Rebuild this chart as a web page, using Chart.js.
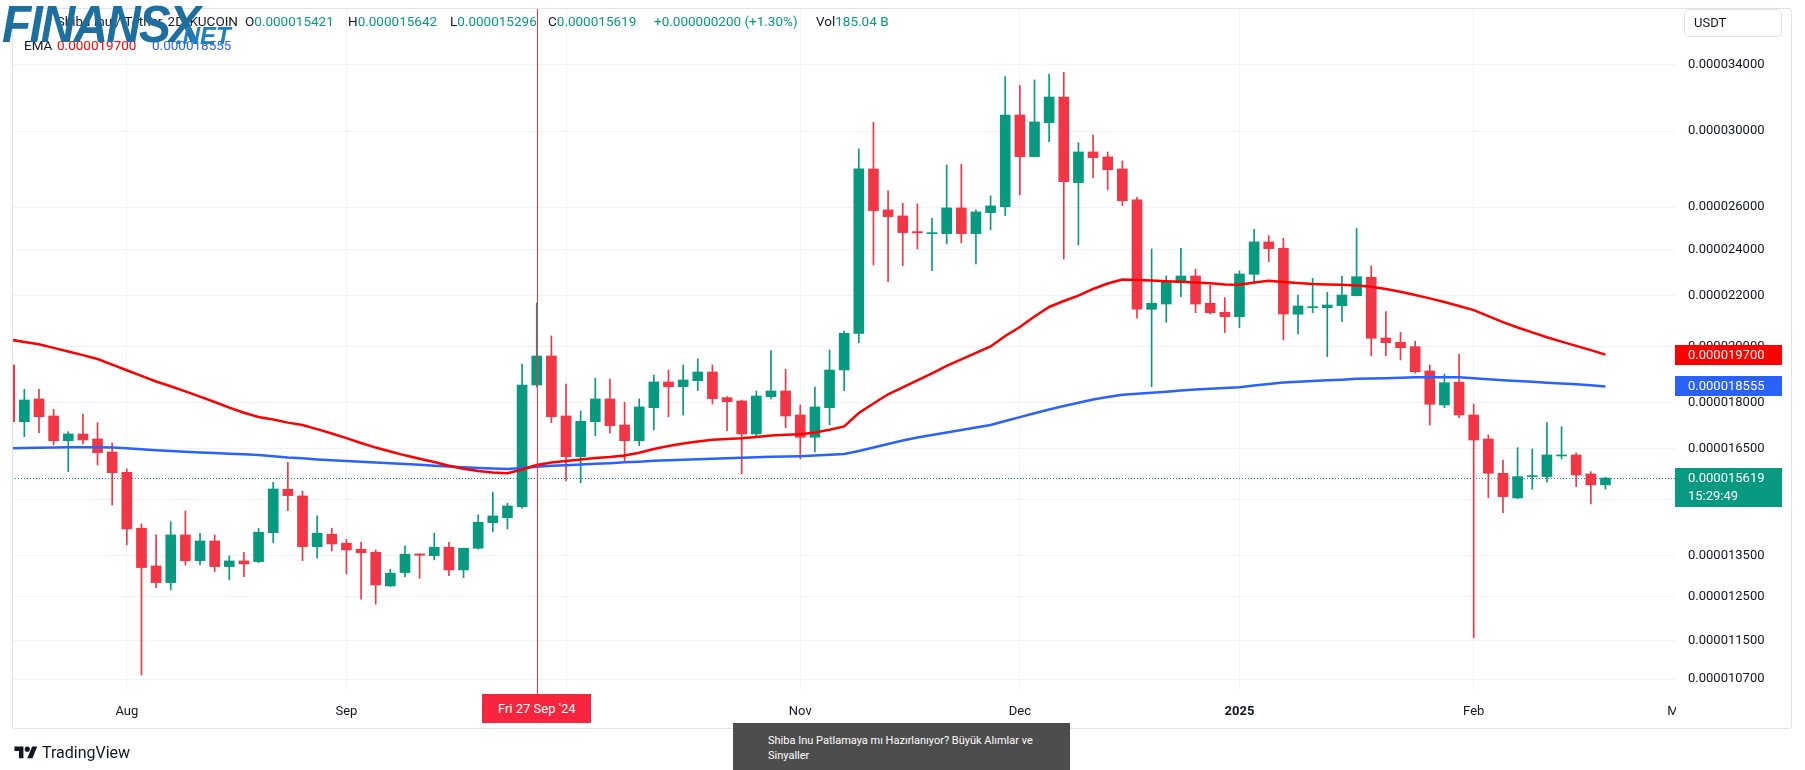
<!DOCTYPE html>
<html><head><meta charset="utf-8">
<script src="https://cdn.jsdelivr.net/npm/chart.js@4.4.1/dist/chart.umd.min.js"></script>
<style>
html,body{margin:0;padding:0;background:#fff;}
body{width:1805px;height:770px;position:relative;overflow:hidden;font-family:Roboto,"Noto Sans",sans-serif;color:#131722;}
#c{position:absolute;left:0;top:0;}
.abs{position:absolute;white-space:nowrap;}
.hd{font-size:13.5px;line-height:16px;top:13px;}
.hd2{font-size:13.5px;line-height:16px;top:37px;}
.g{color:#089981;}
.plbl{left:1675px;width:107px;height:20px;line-height:20px;color:#fff;font-size:13px;box-sizing:border-box;}
.plbl span{position:absolute;left:13px;}
</style></head><body>
<canvas id="c" width="1805" height="770"></canvas>

<div class="abs" style="left:12px;top:8px;width:1778px;height:719px;border:1px solid #e0e3eb;border-radius:3px;pointer-events:none;"></div>

<span class="abs hd" style="right:1567px;">Shiba Inu / Tether, 2D, KUCOIN</span>
<span class="abs hd" style="left:245px;">O<span class="g">0.000015421</span></span>
<span class="abs hd" style="left:348px;">H<span class="g">0.000015642</span></span>
<span class="abs hd" style="left:450px;">L<span class="g">0.000015296</span></span>
<span class="abs hd" style="left:548px;">C<span class="g">0.000015619</span></span>
<span class="abs hd g" style="left:654px;">+0.000000200 (+1.30%)</span>
<span class="abs hd" style="left:816px;">Vol<span class="g">185.04 B</span></span>
<span class="abs hd2" style="left:24px;">EMA</span>
<span class="abs hd2" style="left:57px;color:#ff0000;">0.000019700</span>
<span class="abs hd2" style="left:152px;color:#2962ff;">0.000018555</span>

<div class="abs" style="left:2px;top:-6px;font:italic 900 52px 'Liberation Sans',Arial,sans-serif;color:#1d6f9f;letter-spacing:-2px;transform:scaleX(0.92);transform-origin:left top;">FINANSX</div>
<div class="abs" style="left:176px;top:22px;font:italic 900 24px 'Liberation Sans',Arial,sans-serif;color:#1f7fbf;">.NET</div>

<div class="abs" style="left:1684px;top:9px;width:98px;height:28px;border:1px solid #e0e3eb;border-radius:5px;box-sizing:border-box;font-size:13px;line-height:26px;padding-left:9px;">USDT</div>

<div id="lblRed" class="abs plbl" style="background:#ff0000;"><span></span></div>
<div id="lblBlue" class="abs plbl" style="background:#2962ff;"><span></span></div>
<div id="lblLast" class="abs plbl" style="background:#089981;height:39px;"><span id="lastTxt" style="top:1px;line-height:18px;"></span><span style="top:19px;line-height:18px;">15:29:49</span></div>

<div class="abs" style="left:1676px;top:692px;width:110px;height:34px;background:#fff;"></div>
<div id="lblDate" class="abs" style="top:694px;width:109px;height:29px;line-height:30px;background:#f7253e;color:#fff;font-size:13px;text-align:center;"></div>

<div class="abs" style="left:733px;top:723px;width:337px;height:47px;background:#4d4d4d;color:#fff;font-size:11px;line-height:15px;">
  <div style="position:absolute;left:35px;top:10px;">Shiba Inu Patlamaya mı Hazırlanıyor? Büyük Alımlar ve<br>Sinyaller</div>
</div>

<div class="abs" style="left:14px;top:743px;display:flex;align-items:center;gap:4px;">
  <svg width="24" height="18" viewBox="0 0 36 28"><path d="M14 22H7V11H0V4h14v18zM28 22h-8l7.5-18h8L28 22z" fill="#131722"/><circle cx="20" cy="8" r="4" fill="#131722"/></svg>
  <span style="font-size:16px;color:#131722;">TradingView</span>
</div>

<script>
const dates = [
 '2024-07-17','2024-07-19','2024-07-21','2024-07-23','2024-07-25','2024-07-27','2024-07-29','2024-07-31',
 '2024-08-02','2024-08-04','2024-08-06','2024-08-08','2024-08-10','2024-08-12','2024-08-14','2024-08-16','2024-08-18','2024-08-20','2024-08-22','2024-08-24','2024-08-26','2024-08-28','2024-08-30',
 '2024-09-01','2024-09-03','2024-09-05','2024-09-07','2024-09-09','2024-09-11','2024-09-13','2024-09-15','2024-09-17','2024-09-19','2024-09-21','2024-09-23','2024-09-25','2024-09-27','2024-09-29',
 '2024-10-01','2024-10-03','2024-10-05','2024-10-07','2024-10-09','2024-10-11','2024-10-13','2024-10-15','2024-10-17','2024-10-19','2024-10-21','2024-10-23','2024-10-25','2024-10-27','2024-10-29','2024-10-31',
 '2024-11-02','2024-11-04','2024-11-06','2024-11-08','2024-11-10','2024-11-12','2024-11-14','2024-11-16','2024-11-18','2024-11-20','2024-11-22','2024-11-24','2024-11-26','2024-11-28','2024-11-30',
 '2024-12-02','2024-12-04','2024-12-06','2024-12-08','2024-12-10','2024-12-12','2024-12-14','2024-12-16','2024-12-18','2024-12-20','2024-12-22','2024-12-24','2024-12-26','2024-12-28','2024-12-30',
 '2025-01-01','2025-01-03','2025-01-05','2025-01-07','2025-01-09','2025-01-11','2025-01-13','2025-01-15','2025-01-17','2025-01-19','2025-01-21','2025-01-23','2025-01-25','2025-01-27','2025-01-29','2025-01-31',
 '2025-02-02','2025-02-04','2025-02-06','2025-02-08','2025-02-10','2025-02-12','2025-02-14','2025-02-16','2025-02-18','2025-02-20'
];
const open = [
 19.320e-6,17.366e-6,18.123e-6,17.553e-6,16.756e-6,16.969e-6,16.810e-6,16.404e-6,15.787e-6,14.211e-6,
 13.239e-6,12.830e-6,14.033e-6,13.371e-6,13.876e-6,13.222e-6,13.364e-6,13.346e-6,14.094e-6,15.293e-6,
 15.102e-6,13.728e-6,14.052e-6,13.816e-6,13.661e-6,13.584e-6,12.750e-6,13.074e-6,13.541e-6,13.498e-6,
 13.713e-6,13.140e-6,13.687e-6,14.362e-6,14.497e-6,14.801e-6,18.607e-6,19.650e-6,17.553e-6,16.260e-6,
 17.366e-6,18.123e-6,17.258e-6,16.756e-6,17.829e-6,18.713e-6,18.547e-6,18.758e-6,19.067e-6,18.168e-6,
 18.055e-6,16.969e-6,18.202e-6,18.398e-6,17.586e-6,16.864e-6,17.829e-6,19.139e-6,20.506e-6,27.935e-6,
 25.863e-6,25.573e-6,24.829e-6,24.735e-6,24.735e-6,25.960e-6,24.735e-6,25.732e-6,26.025e-6,30.920e-6,
 28.589e-6,30.476e-6,31.985e-6,27.225e-6,28.842e-6,28.572e-6,27.935e-6,26.353e-6,21.454e-6,21.668e-6,
 22.555e-6,22.841e-6,21.697e-6,21.333e-6,21.157e-6,22.914e-6,24.352e-6,24.065e-6,21.254e-6,21.519e-6,
 21.519e-6,21.599e-6,22.010e-6,22.785e-6,20.326e-6,20.163e-6,19.997e-6,19.103e-6,17.920e-6,18.702e-6,
 17.586e-6,16.810e-6,15.760e-6,15.045e-6,15.660e-6,15.660e-6,16.281e-6,16.312e-6,15.739e-6,15.421e-6
];
const high = [
 19.356e-6,18.457e-6,18.457e-6,17.776e-6,17.042e-6,17.619e-6,17.334e-6,16.684e-6,15.888e-6,14.327e-6,
 14.033e-6,14.389e-6,14.681e-6,14.078e-6,14.033e-6,13.491e-6,13.584e-6,14.211e-6,15.496e-6,16.089e-6,
 15.244e-6,14.544e-6,14.211e-6,13.920e-6,13.842e-6,13.643e-6,13.157e-6,13.746e-6,13.541e-6,14.078e-6,
 13.842e-6,13.687e-6,14.571e-6,15.207e-6,14.895e-6,19.356e-6,21.709e-6,20.403e-6,18.642e-6,17.719e-6,
 18.843e-6,18.818e-6,18.011e-6,18.123e-6,18.960e-6,19.139e-6,19.320e-6,19.540e-6,19.320e-6,18.202e-6,
 18.089e-6,18.398e-6,19.847e-6,19.164e-6,17.920e-6,18.537e-6,19.873e-6,20.596e-6,29.005e-6,30.499e-6,
 26.804e-6,26.190e-6,26.157e-6,25.462e-6,28.146e-6,28.183e-6,25.863e-6,26.552e-6,33.228e-6,32.671e-6,
 33.023e-6,33.398e-6,33.505e-6,29.351e-6,29.779e-6,28.842e-6,28.359e-6,26.487e-6,24.034e-6,22.841e-6,
 24.065e-6,23.134e-6,22.457e-6,21.928e-6,23.060e-6,24.941e-6,24.642e-6,24.522e-6,22.039e-6,22.742e-6,
 22.151e-6,22.841e-6,24.987e-6,23.278e-6,21.358e-6,20.546e-6,20.212e-6,19.320e-6,18.996e-6,19.713e-6,
 17.953e-6,16.937e-6,16.159e-6,16.537e-6,16.497e-6,17.334e-6,17.203e-6,16.373e-6,15.807e-6,15.642e-6
];
const low = [
 17.324e-6,16.883e-6,17.011e-6,16.621e-6,15.807e-6,16.652e-6,16.008e-6,14.848e-6,13.772e-6,10.783e-6,
 12.709e-6,12.655e-6,13.264e-6,13.264e-6,13.098e-6,12.895e-6,12.975e-6,13.321e-6,13.832e-6,14.690e-6,
 13.371e-6,13.432e-6,13.617e-6,13.041e-6,12.435e-6,12.319e-6,12.734e-6,12.975e-6,12.936e-6,13.389e-6,
 13.000e-6,12.951e-6,13.661e-6,14.121e-6,14.193e-6,14.756e-6,18.537e-6,17.334e-6,15.534e-6,15.484e-6,
 16.915e-6,16.991e-6,16.077e-6,16.599e-6,17.097e-6,17.530e-6,17.586e-6,18.409e-6,17.953e-6,17.074e-6,
 15.739e-6,16.883e-6,18.123e-6,17.171e-6,16.190e-6,16.404e-6,17.258e-6,18.409e-6,20.148e-6,23.322e-6,
 22.598e-6,23.291e-6,24.034e-6,23.073e-6,24.261e-6,24.306e-6,23.365e-6,24.908e-6,25.587e-6,26.602e-6,
 28.589e-6,29.406e-6,23.586e-6,24.215e-6,27.482e-6,26.868e-6,26.073e-6,21.094e-6,18.547e-6,20.936e-6,
 21.968e-6,21.318e-6,21.266e-6,20.531e-6,20.725e-6,22.585e-6,23.467e-6,20.250e-6,20.480e-6,21.318e-6,
 19.624e-6,20.960e-6,21.997e-6,19.661e-6,19.661e-6,19.503e-6,19.021e-6,17.258e-6,17.829e-6,17.497e-6,
 11.566e-6,15.053e-6,14.635e-6,15.024e-6,15.293e-6,15.496e-6,16.190e-6,15.368e-6,14.876e-6,15.296e-6
];
const close = [
 17.366e-6,18.089e-6,17.530e-6,16.756e-6,16.969e-6,16.778e-6,16.383e-6,15.778e-6,14.193e-6,13.197e-6,
 12.830e-6,14.033e-6,13.371e-6,13.876e-6,13.222e-6,13.364e-6,13.289e-6,14.105e-6,15.301e-6,15.110e-6,
 13.728e-6,14.078e-6,13.798e-6,13.643e-6,13.574e-6,12.774e-6,13.059e-6,13.533e-6,13.508e-6,13.713e-6,
 13.140e-6,13.687e-6,14.373e-6,14.544e-6,14.820e-6,18.607e-6,19.650e-6,17.530e-6,16.260e-6,17.379e-6,
 18.123e-6,17.235e-6,16.756e-6,17.853e-6,18.713e-6,18.547e-6,18.783e-6,19.067e-6,18.133e-6,18.031e-6,
 16.969e-6,18.226e-6,18.398e-6,17.553e-6,16.864e-6,17.853e-6,19.139e-6,20.506e-6,27.935e-6,25.829e-6,
 25.539e-6,24.782e-6,24.768e-6,24.782e-6,25.960e-6,24.735e-6,25.766e-6,26.058e-6,30.920e-6,28.589e-6,
 30.516e-6,31.985e-6,27.276e-6,28.842e-6,28.535e-6,27.898e-6,26.318e-6,21.454e-6,21.697e-6,22.572e-6,
 22.841e-6,21.668e-6,21.318e-6,21.157e-6,22.927e-6,24.352e-6,24.047e-6,21.266e-6,21.587e-6,21.560e-6,
 21.628e-6,22.039e-6,22.811e-6,20.314e-6,20.148e-6,19.960e-6,19.078e-6,17.943e-6,18.688e-6,17.586e-6,
 16.778e-6,15.760e-6,15.082e-6,15.660e-6,15.690e-6,16.312e-6,16.312e-6,15.710e-6,15.419e-6,15.619e-6
];
const emaRed = [
 20.269e-6,20.174e-6,20.087e-6,19.952e-6,19.817e-6,19.680e-6,19.539e-6,19.331e-6,19.128e-6,18.928e-6,
 18.730e-6,18.562e-6,18.385e-6,18.202e-6,18.021e-6,17.833e-6,17.659e-6,17.520e-6,17.435e-6,17.334e-6,
 17.258e-6,17.125e-6,16.985e-6,16.835e-6,16.684e-6,16.540e-6,16.417e-6,16.300e-6,16.196e-6,16.095e-6,
 15.984e-6,15.897e-6,15.828e-6,15.784e-6,15.763e-6,15.873e-6,16.008e-6,16.083e-6,16.129e-6,16.174e-6,
 16.220e-6,16.251e-6,16.297e-6,16.380e-6,16.497e-6,16.590e-6,16.668e-6,16.731e-6,16.787e-6,16.810e-6,
 16.834e-6,16.873e-6,16.921e-6,16.943e-6,16.959e-6,17.017e-6,17.106e-6,17.210e-6,17.652e-6,17.970e-6,
 18.284e-6,18.523e-6,18.769e-6,19.021e-6,19.291e-6,19.525e-6,19.765e-6,20.005e-6,20.403e-6,20.752e-6,
 21.165e-6,21.547e-6,21.791e-6,22.014e-6,22.289e-6,22.521e-6,22.691e-6,22.670e-6,22.645e-6,22.619e-6,
 22.598e-6,22.564e-6,22.526e-6,22.478e-6,22.470e-6,22.564e-6,22.636e-6,22.585e-6,22.542e-6,22.500e-6,
 22.478e-6,22.466e-6,22.436e-6,22.385e-6,22.289e-6,22.172e-6,22.039e-6,21.899e-6,21.750e-6,21.587e-6,
 21.418e-6,21.177e-6,20.940e-6,20.732e-6,20.542e-6,20.353e-6,20.189e-6,20.027e-6,19.869e-6,19.700e-6
];
const emaBlue = [
 16.515e-6,16.524e-6,16.534e-6,16.543e-6,16.549e-6,16.549e-6,16.549e-6,16.540e-6,16.521e-6,16.487e-6,
 16.460e-6,16.435e-6,16.413e-6,16.389e-6,16.370e-6,16.349e-6,16.330e-6,16.312e-6,16.272e-6,16.232e-6,
 16.208e-6,16.174e-6,16.147e-6,16.129e-6,16.104e-6,16.080e-6,16.059e-6,16.035e-6,16.014e-6,15.984e-6,
 15.960e-6,15.936e-6,15.918e-6,15.903e-6,15.888e-6,15.918e-6,15.957e-6,15.987e-6,16.002e-6,16.023e-6,
 16.041e-6,16.062e-6,16.086e-6,16.107e-6,16.132e-6,16.153e-6,16.168e-6,16.184e-6,16.199e-6,16.214e-6,
 16.229e-6,16.242e-6,16.254e-6,16.263e-6,16.275e-6,16.294e-6,16.321e-6,16.343e-6,16.435e-6,16.543e-6,
 16.652e-6,16.762e-6,16.858e-6,16.937e-6,17.017e-6,17.097e-6,17.177e-6,17.258e-6,17.389e-6,17.514e-6,
 17.642e-6,17.769e-6,17.883e-6,17.997e-6,18.106e-6,18.192e-6,18.267e-6,18.302e-6,18.340e-6,18.374e-6,
 18.412e-6,18.447e-6,18.475e-6,18.502e-6,18.527e-6,18.586e-6,18.642e-6,18.695e-6,18.720e-6,18.744e-6,
 18.769e-6,18.793e-6,18.822e-6,18.836e-6,18.846e-6,18.860e-6,18.875e-6,18.878e-6,18.878e-6,18.878e-6,
 18.842e-6,18.810e-6,18.776e-6,18.748e-6,18.716e-6,18.688e-6,18.660e-6,18.628e-6,18.600e-6,18.555e-6
];
const yTicks = [10.7e-6, 11.5e-6, 12.5e-6, 13.5e-6, 15.0e-6, 16.5e-6, 18.0e-6, 20.0e-6, 22.0e-6, 24.0e-6, 26.0e-6, 30.0e-6, 34.0e-6];
const monthTickIndex = [8, 23, 38, 54, 69, 84, 100, 114];
const monthTickLabels = ['Aug', 'Sep', 'Oct', 'Nov', 'Dec', '2025', 'Feb', 'Mar'];
const crosshairIndex = 36;
const crosshairLabel = "Fri 27 Sep '24";

const UP = '#089981', DOWN = '#f23645';
const candleColors = close.map((c, i) => c >= open[i] ? UP : DOWN);
const X_MIN = 0.157, X_MAX = 113.75;

const overlay = {
  id: 'overlay',
  beforeDatasetsDraw(chart) {
    const {ctx, chartArea: a, scales: {y}} = chart;
    const py = Math.round(y.getPixelForValue(close[close.length - 1])) + 0.5;
    ctx.save();
    ctx.strokeStyle = UP; ctx.lineWidth = 1; ctx.setLineDash([1, 2]);
    ctx.beginPath(); ctx.moveTo(a.left, py); ctx.lineTo(a.right, py); ctx.stroke();
    ctx.restore();
  },
  afterDatasetsDraw(chart) {
    const {ctx, chartArea: a, scales: {x}} = chart;
    const px = Math.round(x.getPixelForValue(crosshairIndex)) + 0.5;
    ctx.save();
    ctx.strokeStyle = '#f23645'; ctx.lineWidth = 1;
    ctx.beginPath(); ctx.moveTo(px, a.top); ctx.lineTo(px, a.bottom + 4); ctx.stroke();
    ctx.restore();
  }
};

const chart = new Chart(document.getElementById('c'), {
  type: 'bar',
  data: {
    datasets: [
      { type: 'line', data: emaRed.map((v, i) => ({x: i, y: v})), borderColor: '#ff0000', borderWidth: 2.5, pointRadius: 0, tension: 0, order: 0 },
      { type: 'line', data: emaBlue.map((v, i) => ({x: i, y: v})), borderColor: '#2962ff', borderWidth: 2.5, pointRadius: 0, tension: 0, order: 0 },
      { type: 'bar', data: dates.map((d, i) => ({x: i, y: [open[i], close[i]]})), backgroundColor: candleColors, borderWidth: 0, barThickness: 10, minBarLength: 1, grouped: false, order: 1 },
      { type: 'bar', data: dates.map((d, i) => ({x: i, y: [low[i], high[i]]})), backgroundColor: candleColors, borderWidth: 0, barThickness: 1, minBarLength: 1, grouped: false, order: 2 }
    ]
  },
  options: {
    responsive: false, animation: false, events: [],
    layout: { padding: { left: 12, top: 9, right: 0, bottom: 43 } },
    plugins: { legend: { display: false }, tooltip: { enabled: false } },
    scales: {
      x: {
        type: 'linear', min: X_MIN, max: X_MAX, bounds: 'data', offset: false,
        grid: { offset: false, color: c => (c.tick && c.tick.value <= X_MAX) ? '#f0f3fa' : 'rgba(0,0,0,0)', drawTicks: false },
        border: { display: false },
        afterBuildTicks: s => { s.ticks = monthTickIndex.map(v => ({value: v})); },
        afterFit: s => { s.height = 37; s.paddingLeft = 0; s.paddingRight = 0; },
        ticks: {
          autoSkip: false, maxRotation: 0, minRotation: 0, padding: 14, color: '#131722',
          font: c => ({ family: 'Roboto', size: 13, weight: (c.tick && c.tick.value === 84) ? 'bold' : 'normal' }),
          callback: (v, i) => monthTickLabels[i]
        }
      },
      y: {
        type: 'logarithmic', position: 'right', min: 10.483e-6, max: 37.741e-6, bounds: 'data',
        grid: { color: '#f0f3fa', drawTicks: false },
        border: { display: false },
        afterBuildTicks: s => { s.ticks = yTicks.map(v => ({value: v})); },
        afterFit: s => { s.width = 130; s.paddingTop = 0; s.paddingBottom = 0; },
        ticks: { autoSkip: false, padding: 13, color: '#131722', font: { family: 'Roboto', size: 13 }, callback: v => Number(v).toFixed(9) }
      }
    }
  },
  plugins: [overlay]
});

const ys = chart.scales.y, xs = chart.scales.x, last = close.length - 1;
function place(id, val, h) { const el = document.getElementById(id); el.style.top = (ys.getPixelForValue(val) - h / 2) + 'px'; return el; }
place('lblRed', emaRed[last], 20).firstChild.textContent = emaRed[last].toFixed(9);
place('lblBlue', emaBlue[last], 20).firstChild.textContent = emaBlue[last].toFixed(9);
const ll = document.getElementById('lblLast');
ll.style.top = (ys.getPixelForValue(close[last]) - 10) + 'px';
document.getElementById('lastTxt').textContent = close[last].toFixed(9);
const ld = document.getElementById('lblDate');
ld.textContent = crosshairLabel;
ld.style.left = (xs.getPixelForValue(crosshairIndex) - 54.5) + 'px';
</script>
</body></html>
